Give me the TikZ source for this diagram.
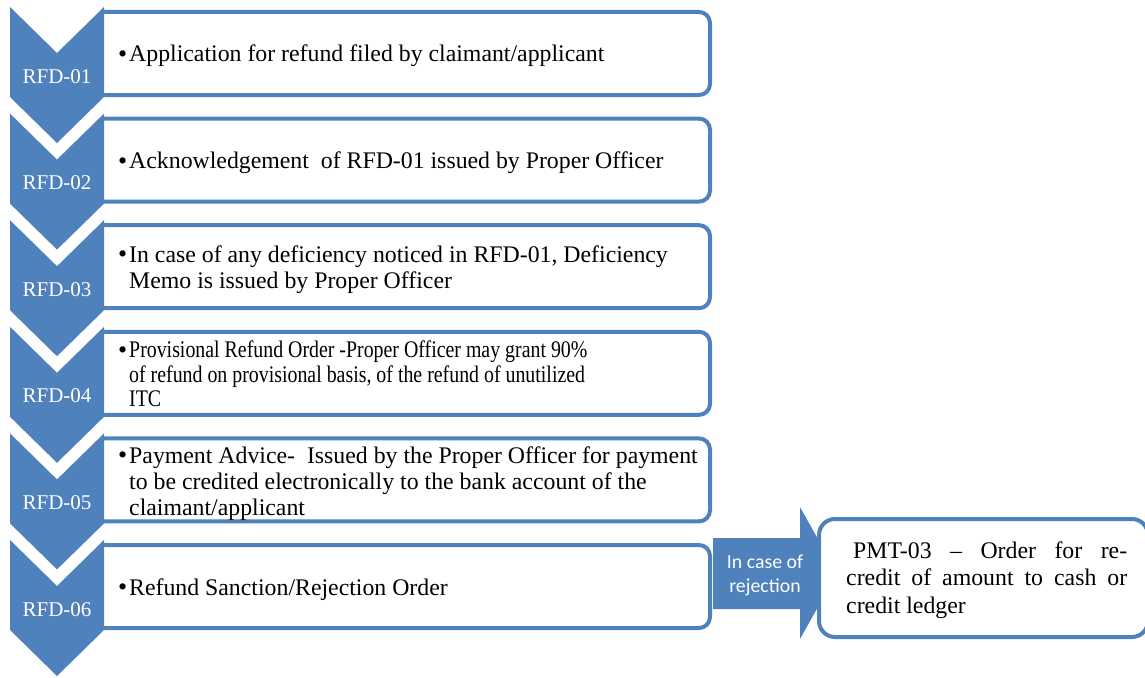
\documentclass[tikz,border=0pt]{standalone}
\usepackage{fontspec}
\usepackage{graphicx}
\setmainfont{Liberation Serif}
\newfontfamily\labelsans{Carlito}
\definecolor{chevblue}{HTML}{4F81BD}

% bullet column used in front of every step text
\newcommand\stepbullet{\makebox[11pt][l]{\raisebox{-0.5pt}{\fontsize{26}{26}\selectfont\textbullet}}}
% one bullet line group: bullet column, then the wrapped lines
\newcommand\bulletlines[2][26pt]{%
  \stepbullet\parbox[t]{600pt}{\fontsize{23.8}{#1}\selectfont\raggedright #2}}

\tikzset{
  x=1pt, y=-1pt,
  chev/.style={fill=chevblue, draw=none},
  stepbox/.style={draw=chevblue, line width=4pt, rounded corners=11pt, fill=white},
  pmtbox/.style={draw=chevblue, line width=4pt, rounded corners=16pt, fill=white},
  chevlabel/.style={text=white, font=\fontsize{21}{25}\selectfont, anchor=base, inner sep=0pt},
  itemtext/.style={anchor=base west, inner sep=0pt, font=\fontsize{23.8}{26}\selectfont},
  arrowtext/.style={anchor=base, inner sep=0pt, text=white},
}

\begin{document}
\begin{tikzpicture}
\useasboundingbox (0,0) rectangle (1145,677);

% step boxes; their left ends are cut at the right edge of the chevrons
\begin{scope}
  \clip (104,0) rectangle (760,677);
  \foreach \i in {0,...,5} {
    \pgfmathsetmacro\bt{12+106.6*\i}
    \pgfmathsetmacro\bb{95+106.6*\i}
    \draw[stepbox] (80,\bt) rectangle (710,\bb);
  }
\end{scope}

% chevrons with their form numbers
\foreach \i/\lab in {0/RFD-01,1/RFD-02,2/RFD-03,3/RFD-04,4/RFD-05,5/RFD-06} {
  \pgfmathsetmacro\ct{7+106.6*\i}
  \fill[chev] (10,\ct) -- (57,\ct+46) -- (104,\ct) -- (104,\ct+90)
              -- (57,\ct+136) -- (10,\ct+90) -- cycle;
  \node[chevlabel] (lab\i) at (57,\ct+76) {\lab};
}

% texts of the steps
\node[itemtext] (t1) at (118,62) {\bulletlines{Application for refund filed by claimant/applicant}};
\node[itemtext] (t2) at (118,168.6) {\bulletlines{Acknowledgement\ \ of RFD-01 issued by Proper Officer}};
\node[itemtext] (t3) at (118,262) {\bulletlines{In case of any deficiency noticed in RFD-01, Deficiency\\Memo is issued by Proper Officer}};
\node[itemtext] (t4) at (118,357.5) {\stepbullet
  \scalebox{0.835}[1]{\parbox[t]{700pt}{\fontsize{23.8}{24.5}\selectfont\raggedright Provisional Refund Order -Proper Officer may grant 90\%\\of refund on provisional basis, of the refund of unutilized\\ITC}}};
\node[itemtext] (t5) at (118,463) {\bulletlines{Payment Advice-\ \ Issued by the Proper Officer for payment\\to be credited electronically to the bank account of the\\claimant/applicant}};
\node[itemtext] (t6) at (118,595) {\bulletlines{Refund Sanction/Rejection Order}};

% block arrow towards the re-credit order
\fill[chev] (713,538) coordinate (arrtail) -- (800,538) -- (800,507) -- (837,573) coordinate (arrtip)
            -- (800,639) -- (800,609) -- (713,609) -- cycle;
\node[arrowtext] (rej) at (765,568)
  {\parbox[t]{90pt}{\centering\labelsans\fontsize{19.8}{24}\selectfont In case of\\rejection}};

% re-credit order box
\draw[pmtbox] (819,519) rectangle (1148,637);
\node[anchor=base west, inner sep=0pt] (pmt) at (846,558)
  {\parbox[t]{281pt}{\fontsize{23.8}{27.5}\selectfont\hbadness=10000\parindent=0pt
   \hspace*{7pt}PMT-03 – Order for re-\linebreak
   credit of amount to cash or\linebreak
   credit ledger}};
\end{tikzpicture}
\end{document}
